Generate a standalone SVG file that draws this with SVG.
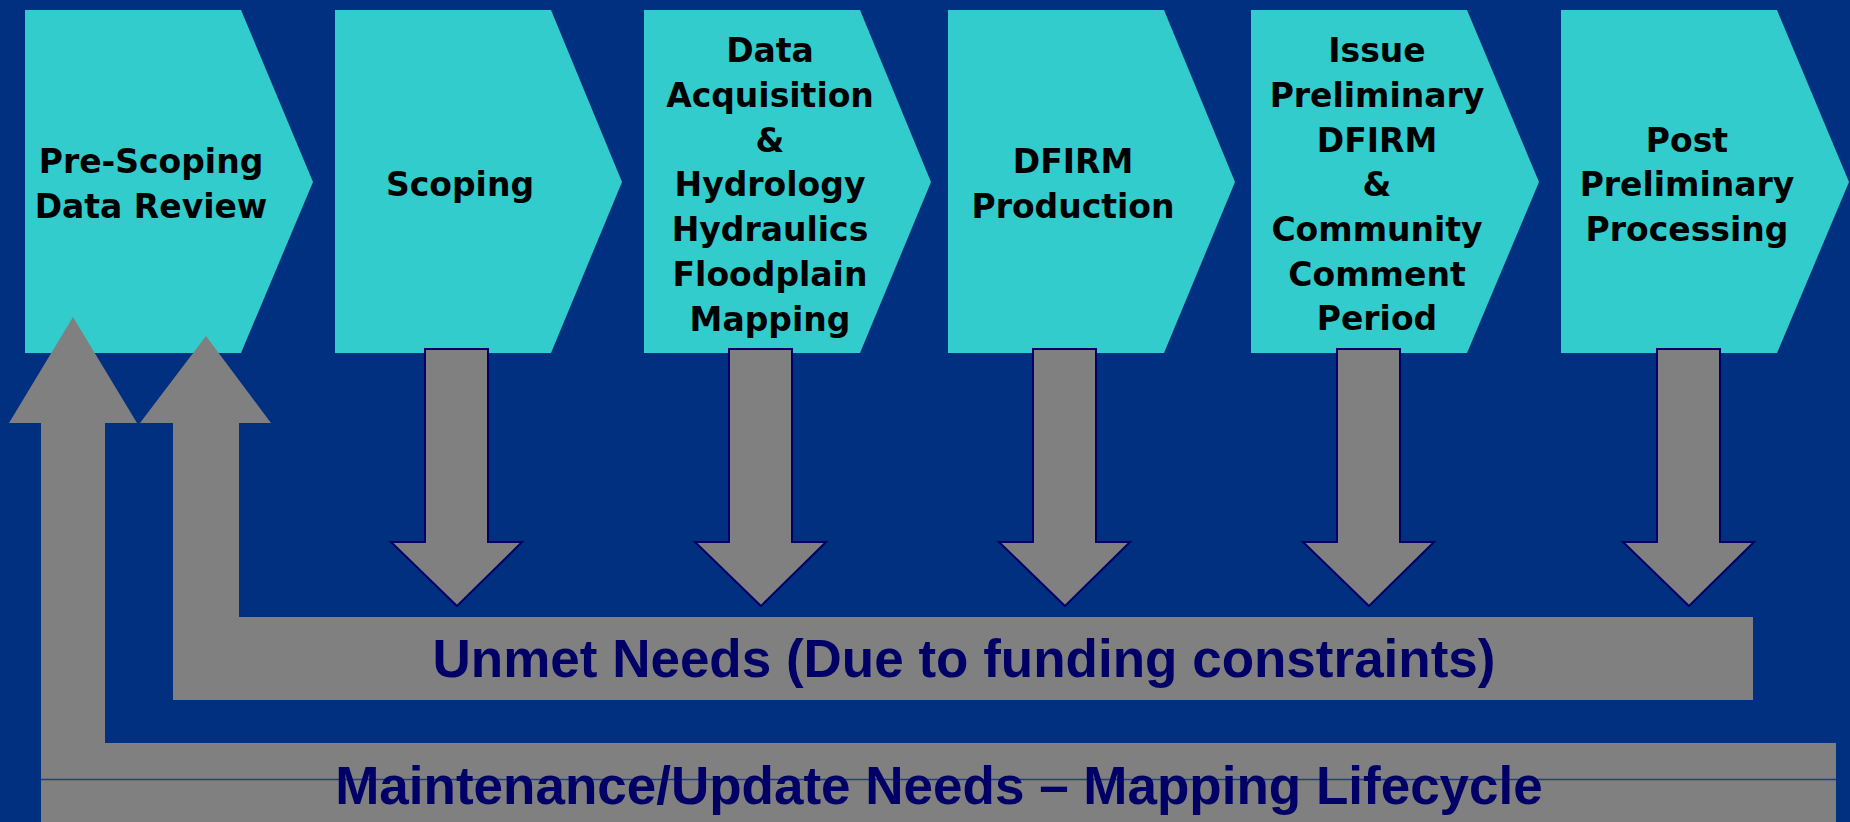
<svg xmlns="http://www.w3.org/2000/svg" width="1850" height="822" viewBox="0 0 1850 822">
<defs>
<style>
.step{fill:#33CCCC;}
.lbl{font-family:"DejaVu Sans",Verdana,sans-serif;font-weight:bold;font-size:33px;fill:#000000;text-anchor:middle;}
.down{fill:#808080;stroke:#000066;stroke-width:2;stroke-linejoin:miter;}
.band{fill:#808080;}
.band-lbl{font-family:"Liberation Sans",Arial,sans-serif;font-weight:bold;font-size:53px;fill:#000066;text-anchor:middle;}
</style>
<polygon id="down-arrow" class="down" points="-32,0 31,0 31,193 65,193 0,257 -66,193 -32,193"/>
</defs>
<rect x="0" y="0" width="1850" height="822" fill="#00307F"/>

<g id="step-1">
<polygon class="step" points="25,10 241,10 313,182 241,353 25,353"/>
<text class="lbl" x="151" y="173">Pre-Scoping</text>
<text class="lbl" x="151" y="218">Data Review</text>
</g>
<g id="step-2">
<polygon class="step" points="335,10 551,10 622,182 551,353 335,353"/>
<text class="lbl" x="460" y="196">Scoping</text>
</g>
<g id="step-3">
<polygon class="step" points="644,10 860,10 931,182 860,353 644,353"/>
<text class="lbl" x="770" y="62">Data</text>
<text class="lbl" x="770" y="107">Acquisition</text>
<text class="lbl" x="770" y="152">&amp;</text>
<text class="lbl" x="770" y="196">Hydrology</text>
<text class="lbl" x="770" y="241">Hydraulics</text>
<text class="lbl" x="770" y="286">Floodplain</text>
<text class="lbl" x="770" y="331">Mapping</text>
</g>
<g id="step-4">
<polygon class="step" points="948,10 1164,10 1235,182 1164,353 948,353"/>
<text class="lbl" x="1073" y="173">DFIRM</text>
<text class="lbl" x="1073" y="218">Production</text>
</g>
<g id="step-5">
<polygon class="step" points="1251,10 1467,10 1539,182 1467,353 1251,353"/>
<text class="lbl" x="1377" y="62">Issue</text>
<text class="lbl" x="1377" y="107">Preliminary</text>
<text class="lbl" x="1377" y="152">DFIRM</text>
<text class="lbl" x="1377" y="196">&amp;</text>
<text class="lbl" x="1377" y="241">Community</text>
<text class="lbl" x="1377" y="286">Comment</text>
<text class="lbl" x="1377" y="330">Period</text>
</g>
<g id="step-6">
<polygon class="step" points="1561,10 1777,10 1849,182 1777,353 1561,353"/>
<text class="lbl" x="1687" y="152">Post</text>
<text class="lbl" x="1687" y="196">Preliminary</text>
<text class="lbl" x="1687" y="241">Processing</text>
</g>

<g id="connectors">
<use href="#down-arrow" x="457" y="349"/>
<use href="#down-arrow" x="761" y="349"/>
<use href="#down-arrow" x="1065" y="349"/>
<use href="#down-arrow" x="1369" y="349"/>
<use href="#down-arrow" x="1689" y="349"/>
<polygon id="maintenance-loop" class="band" points="73,317 137,423 105,423 105,743 1836,743 1836,822 41,822 41,423 9,423"/>
<polygon id="unmet-loop" class="band" points="206,336 271,423 239,423 239,617 1753,617 1753,700 173,700 173,423 140,423"/>
<line x1="41" y1="779.5" x2="1836" y2="779.5" stroke="#1F3F7F" stroke-width="1.5"/>
</g>

<g id="unmet-label">
<text class="band-lbl" x="964" y="677">Unmet Needs (Due to funding constraints)</text>
</g>
<g id="maintenance-label">
<text class="band-lbl" x="939" y="804">Maintenance/Update Needs – Mapping Lifecycle</text>
</g>
</svg>
